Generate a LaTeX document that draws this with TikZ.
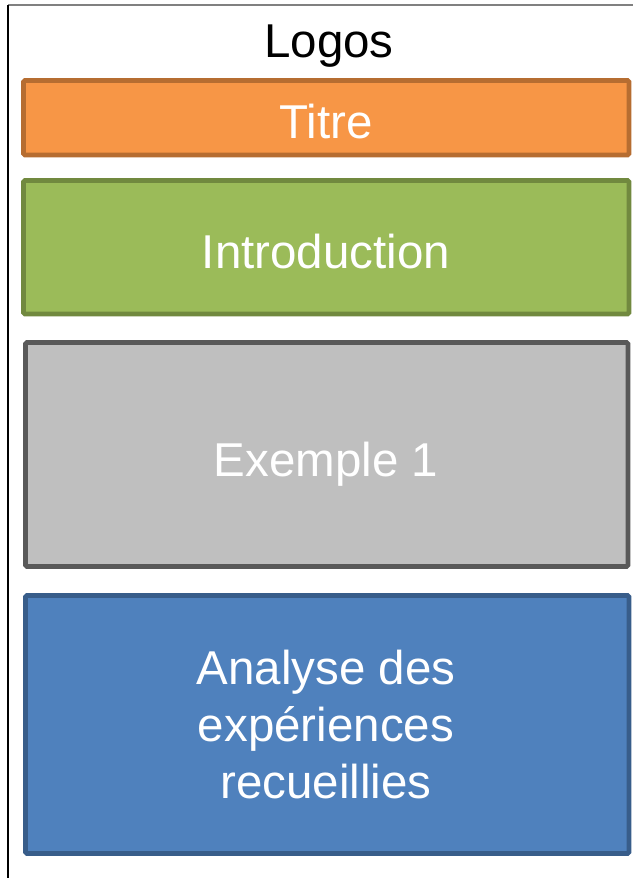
\documentclass[tikz,border=0pt]{standalone}
\usepackage{fontspec}
\setmainfont{Liberation Sans}
\definecolor{orangefill}{HTML}{F79646}
\definecolor{orangeline}{HTML}{B66D31}
\definecolor{greenfill}{HTML}{9BBB59}
\definecolor{greenline}{HTML}{71893F}
\definecolor{grayfill}{HTML}{BFBFBF}
\definecolor{grayline}{HTML}{595959}
\definecolor{bluefill}{HTML}{4F81BD}
\definecolor{blueline}{HTML}{385D8A}
\definecolor{frametop}{HTML}{808080}
\tikzset{
  panel/.style={line width=4.8pt, rounded corners=1.5pt},
  label/.style={font=\fontsize{47.5}{57}\selectfont, text=white, inner sep=0pt, align=center},
}
\begin{document}
\begin{tikzpicture}[x=1pt,y=-1pt]
\useasboundingbox (0,0) rectangle (633,878);
% page frame
\coordinate (ftl) at (8,5);
\coordinate (ftr) at (633,5);
\coordinate (fbl) at (8,878);
\draw[frametop, line width=1.3pt] (ftl) -- (ftr);
\draw[black, line width=1.3pt] (ftl) -- (fbl);
% boxes
\draw[panel, fill=orangefill, draw=orangeline] (23.5,80.5) rectangle (629,155);
\draw[panel, fill=greenfill, draw=greenline] (23.5,180.5) rectangle (629,314);
\draw[panel, fill=grayfill, draw=grayline] (25.5,342.5) rectangle (628,566.5);
\draw[panel, fill=bluefill, draw=blueline] (25.5,595.5) rectangle (629,853.5);
% texts
\node[label, text=black, anchor=base] (logos) at (329,57) {Logos};
\node[label, anchor=base] (titre) at (326,138) {Titre};
\node[label, anchor=base] (intro) at (326,268) {Introduction};
\node[label, anchor=base] (ex) at (326,476) {Exemple 1};
\node[label] (analyse) at (326,725) {Analyse des\\expériences\\recueillies};
\end{tikzpicture}
\end{document}
